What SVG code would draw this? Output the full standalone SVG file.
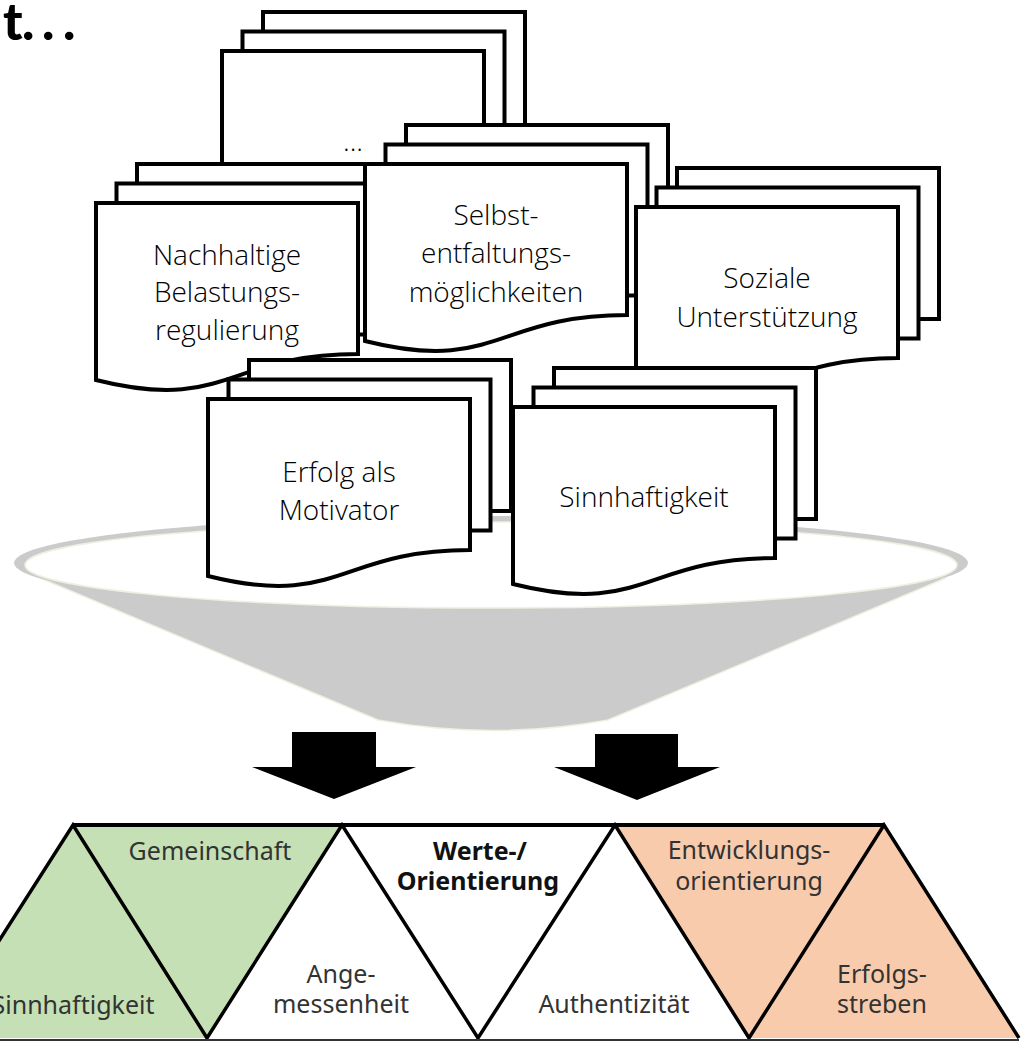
<svg xmlns="http://www.w3.org/2000/svg" xmlns:xlink="http://www.w3.org/1999/xlink" width="1026" height="1041" viewBox="0 0 1026 1041">
<style>
.doc{fill:#fff;stroke:#000;stroke-width:4;stroke-linejoin:miter}
.lbl{font-family:"Open Sans","Noto Sans",sans-serif;font-weight:300;font-size:28px;fill:#000;text-anchor:middle}
.bt{font-family:"Noto Sans","Open Sans",sans-serif;font-size:25px;fill:#333;text-anchor:middle}
.bb{font-family:"Noto Sans","Open Sans",sans-serif;font-size:25px;font-weight:bold;fill:#111;text-anchor:middle}
.zig{fill:none;stroke:#000;stroke-width:3.5;stroke-linejoin:miter}
</style>
<defs>
<g id="stack">
<rect x="41" y="-39" width="262" height="151" class="doc"/>
<rect x="20.5" y="-19.5" width="262" height="151" class="doc"/>
<path d="M0,0 H262 V151 C131,151 131,210 0,177 Z" class="doc"/>
</g>
</defs>
<rect width="1026" height="1041" fill="#fff"/>
<text x="3 22 42 63" y="40" font-family="Lato,'Open Sans',sans-serif" font-weight="900" font-size="52" fill="#000">t...</text>

<g id="funnel">
<path d="M40,578 L378,720 Q493,741 608,720 L946,578 Z" fill="#cbcbcb" stroke="#efefe2" stroke-width="1.5"/>
<ellipse cx="491" cy="563" rx="477" ry="47" fill="#cbcbcb"/>
<ellipse cx="491" cy="565" rx="466" ry="43" fill="#fff" stroke="#efefe2" stroke-width="1.5"/>
</g>

<g id="arrows">
<path d="M292,732 H376 V767 H416 L334,799 L252,767 H292 Z" fill="#000"/>
<path d="M595,734 H678 V767 H720 L637,800 L554,767 H595 Z" fill="#000"/>
</g>

<g id="doc-more">
<use xlink:href="#stack" transform="translate(222,51)"/>
<text class="lbl" x="353" y="151">...</text>
</g>
<g id="doc-nachhaltige">
<use xlink:href="#stack" transform="translate(96,203)"/>
<text class="lbl" x="227" y="265">Nachhaltige</text>
<text class="lbl" x="227" y="302">Belastungs-</text>
<text class="lbl" x="227" y="340">regulierung</text>
</g>
<g id="doc-selbst">
<use xlink:href="#stack" transform="translate(365,164)"/>
<text class="lbl" x="496" y="225">Selbst-</text>
<text class="lbl" x="496" y="263">entfaltungs-</text>
<text class="lbl" x="496" y="302">möglichkeiten</text>
</g>
<g id="doc-soziale">
<use xlink:href="#stack" transform="translate(636,207)"/>
<text class="lbl" x="767" y="288">Soziale</text>
<text class="lbl" x="767" y="327">Unterstützung</text>
</g>
<g id="doc-erfolg">
<use xlink:href="#stack" transform="translate(208,399)"/>
<text class="lbl" x="339" y="482">Erfolg als</text>
<text class="lbl" x="339" y="520">Motivator</text>
</g>
<g id="doc-sinn">
<use xlink:href="#stack" transform="translate(513,407)"/>
<text class="lbl" x="644" y="507">Sinnhaftigkeit</text>
</g>

<g id="band">
<polygon points="-63,1038 73,825 207,1038" fill="#c5e0b4"/>
<polygon points="73,825 342,825 207,1038" fill="#c5e0b4"/>
<polygon points="615,825 884,825 749,1038" fill="#f8cbad"/>
<polygon points="749,1038 884,825 1019,1038" fill="#f8cbad"/>
<polyline class="zig" points="-63,1038 73,825 207,1038 342,825 478,1038 615,825 749,1038 884,825 1019,1038"/>
<line x1="73" y1="825" x2="884" y2="825" stroke="#000" stroke-width="4"/>
<line x1="0" y1="1040.5" x2="1019" y2="1040.5" stroke="#333" stroke-width="3"/>
<text class="bt" x="73" y="1014">Sinnhaftigkeit</text>
<text class="bt" x="210" y="860">Gemeinschaft</text>
<text class="bt" x="341" y="983">Ange-</text>
<text class="bt" x="341" y="1013">messenheit</text>
<text class="bb" x="480" y="860">Werte-/</text>
<text class="bb" x="478" y="890">Orientierung</text>
<text class="bt" x="614" y="1013">Authentizität</text>
<text class="bt" x="749" y="859">Entwicklungs-</text>
<text class="bt" x="749" y="890">orientierung</text>
<text class="bt" x="882" y="983">Erfolgs-</text>
<text class="bt" x="882" y="1013">streben</text>
</g>
</svg>
